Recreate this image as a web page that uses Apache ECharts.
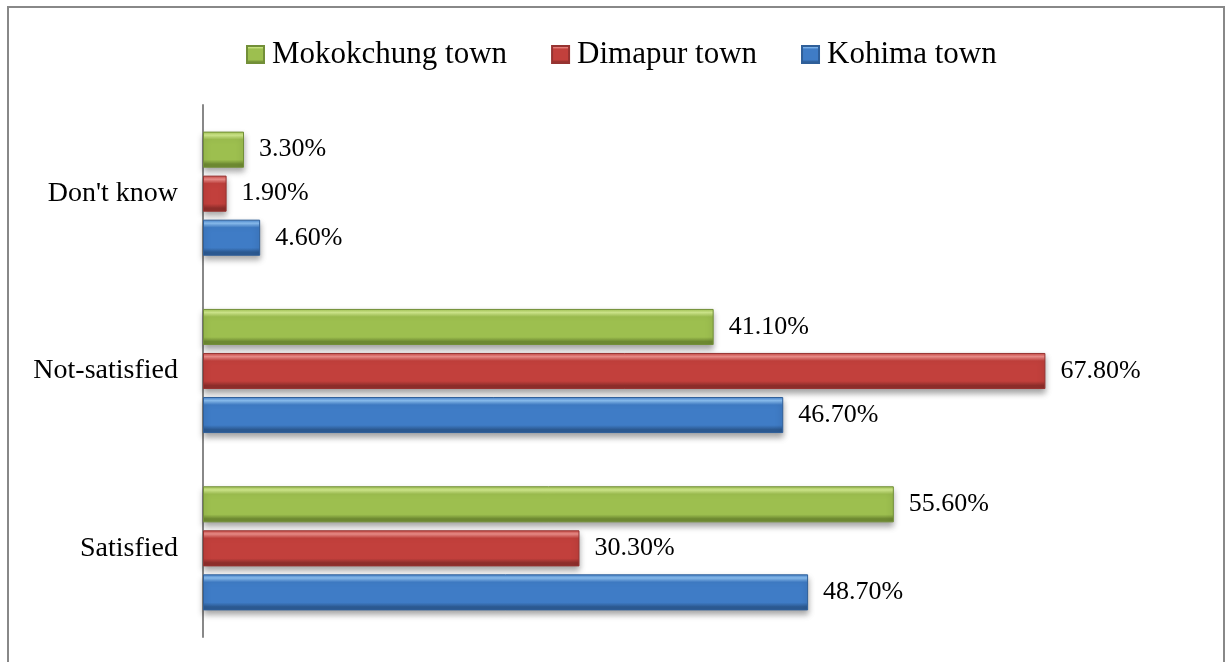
<!DOCTYPE html>
<html>
<head>
<meta charset="utf-8">
<script src="https://cdn.jsdelivr.net/npm/echarts@6/dist/echarts.min.js"></script>
<style>
  html, body { margin: 0; padding: 0; background: #fff; }
  #chart { width: 1226px; height: 662px; }
</style>
</head>
<body>
<div id="chart"></div>
<script>
// categories bottom -> top
const categories = ['Satisfied', 'Not-satisfied', "Don't know"];
const kohima = [48.7, 46.7, 4.6];
const dimapur = [30.3, 67.8, 1.9];
const mokokchung = [55.6, 41.1, 3.3];
const legendOrder = ['Mokokchung town', 'Dimapur town', 'Kohima town'];

const font = '"Liberation Serif", "Times New Roman", serif';

function bevel(light, main, dark) {
  return new echarts.graphic.LinearGradient(0, 0, 0, 1, [
    { offset: 0, color: main },
    { offset: 0.1, color: light },
    { offset: 0.22, color: main },
    { offset: 0.78, color: main },
    { offset: 0.9, color: dark },
    { offset: 1, color: dark }
  ]);
}

function barSeries(name, data, light, main, dark, border) {
  return {
    name: name,
    type: 'bar',
    data: data,
    barGap: '22%',
    barCategoryGap: '30%',
    itemStyle: {
      color: bevel(light, main, dark),
      borderColor: border,
      borderWidth: 1,
      shadowColor: 'rgba(0,0,0,0.35)',
      shadowBlur: 6,
      shadowOffsetY: 4
    },
    label: {
      show: true,
      position: 'right',
      distance: 15,
      color: '#000',
      fontFamily: font,
      fontSize: 26,
      formatter: p => p.value.toFixed(2) + '%'
    }
  };
}

const myChart = echarts.init(document.getElementById('chart'));

const option = {
  backgroundColor: '#fff',
  animation: false,
  graphic: [
    {
      type: 'rect',
      shape: { x: 8, y: 7, width: 1216, height: 700 },
      style: { fill: 'none', stroke: '#888', lineWidth: 2 }
    }
  ],
  legend: {
    data: legendOrder,
    top: 34,
    left: 241,
    itemWidth: 17,
    itemHeight: 17,
    itemGap: 44,
    icon: 'rect',
    textStyle: {
      fontFamily: font,
      fontSize: 31,
      color: '#000',
      padding: [0, 0, 0, 3]
    }
  },
  grid: {
    left: 203,
    right: 29,
    top: 105,
    bottom: 25,
    containLabel: false
  },
  xAxis: {
    type: 'value',
    min: 0,
    max: 80,
    show: false,
    splitLine: { show: false }
  },
  yAxis: {
    type: 'category',
    data: categories,
    axisLine: { lineStyle: { color: '#888', width: 2 } },
    axisTick: { show: false },
    axisLabel: {
      color: '#000',
      fontFamily: font,
      fontSize: 28,
      margin: 25
    }
  },
  // series order puts Mokokchung on top of each group
  series: [
    barSeries('Mokokchung town', mokokchung, '#d3ec8e', '#9dbf4f', '#6e8a32', '#728f38'),
    barSeries('Dimapur town', dimapur, '#f0908c', '#c2403c', '#8e2e2b', '#963331'),
    barSeries('Kohima town', kohima, '#8cc1f4', '#3f7cc6', '#2c5a92', '#2f5f99')
  ]
};

myChart.setOption(option);
</script>
</body>
</html>
